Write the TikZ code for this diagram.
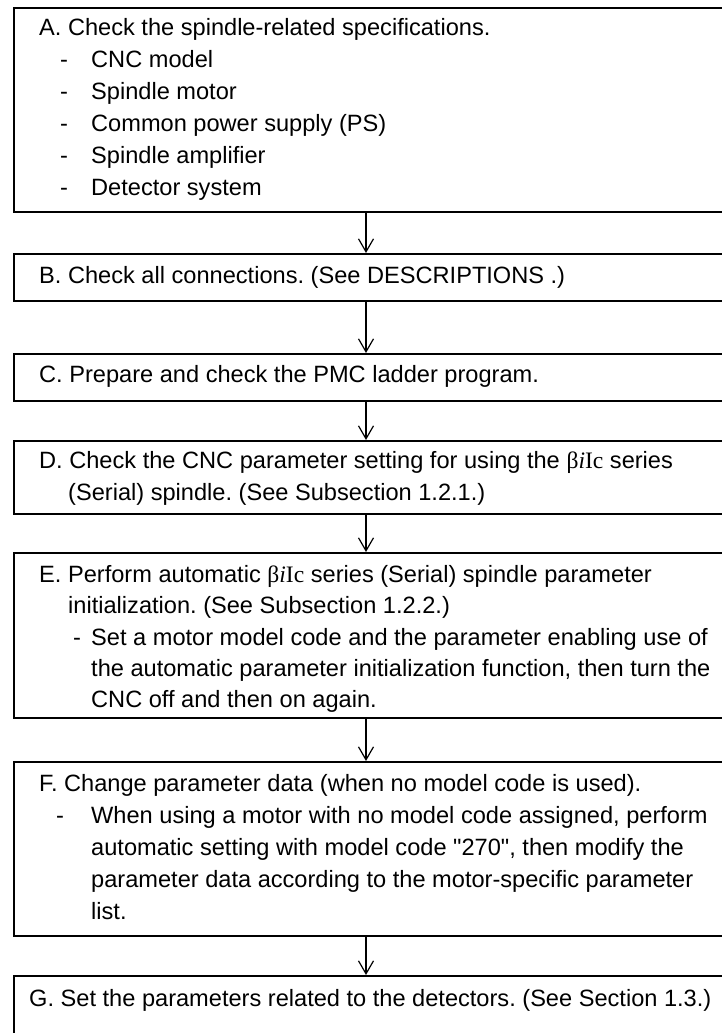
\documentclass[tikz,border=0pt]{standalone}
\usepackage{fontspec}
\setmainfont{Liberation Sans}
\newfontfamily\serifb{Liberation Serif}
\newfontfamily\plainsans{Liberation Sans}
\usetikzlibrary{arrows.meta}
\newcommand{\bic}{{\serifb β\textit{i}Ic}}
\newcommand{\sq}{{\plainsans "}}
\frenchspacing
\tikzset{
  box/.style={draw, line width=1.6pt, anchor=north west, minimum width=740pt, inner sep=0pt},
  txt/.style={anchor=base west, inner sep=0pt, font=\fontsize{23.6}{30}\selectfont},
  arr/.style={line width=1.2pt, -{Straight Barb[length=13pt,width=15pt,line width=1.2pt]}}
}
\begin{document}
\begin{tikzpicture}[x=1pt,y=-1pt]
\useasboundingbox (0,0) rectangle (722,1033);
\clip (0,0) rectangle (722,1033);
% boxes
\node[box, minimum height=204pt] (A) at (13,7) {};
\node[box, minimum height=47pt] (B) at (13,253) {};
\node[box, minimum height=47pt] (C) at (13,353) {};
\node[box, minimum height=73pt] (D) at (13,440) {};
\node[box, minimum height=165pt] (E) at (13,552) {};
\node[box, minimum height=174pt] (F) at (13,761) {};
\node[box, minimum height=120pt] (G) at (13,975) {};
\coordinate (ax) at (366,0);
% texts A
\node[txt] (a0) at (39,35.5) {A. Check the spindle-related specifications.};
\node[txt] (a1d) at (60,67.5) {-};
\node[txt] (a1) at (91,67.5) {CNC model};
\node[txt] (a2d) at (60,99.5) {-};
\node[txt] (a2) at (91,99.5) {Spindle motor};
\node[txt] (a3d) at (60,131.5) {-};
\node[txt] (a3) at (91,131.5) {Common power supply (PS)};
\node[txt] (a4d) at (60,163.5) {-};
\node[txt] (a4) at (91,163.5) {Spindle amplifier};
\node[txt] (a5d) at (60,195.5) {-};
\node[txt] (a5) at (91,195.5) {Detector system};
% B
\node[txt] (b0) at (39,283.5) {B. Check all connections. (See DESCRIPTIONS .)};
% C
\node[txt] (c0) at (39,382.5) {C. Prepare and check the PMC ladder program.};
% D
\node[txt] (d0) at (39,468.5) {D. Check the CNC parameter setting for using the \bic{} series};
\node[txt] (d1) at (68,500.5) {(Serial) spindle. (See Subsection 1.2.1.)};
% E
\node[txt] (e0) at (39,582) {E. Perform automatic \bic{} series (Serial) spindle parameter};
\node[txt] (e1) at (68,613) {initialization. (See Subsection 1.2.2.)};
\node[txt] (e2d) at (73,645) {-};
\node[txt] (e2) at (91,645) {Set a motor model code and the parameter enabling use of};
\node[txt] (e3) at (91,676) {the automatic parameter initialization function, then turn the};
\node[txt] (e4) at (91,707) {CNC off and then on again.};
% F
\node[txt] (f0) at (39,791) {F. Change parameter data (when no model code is used).};
\node[txt] (f1d) at (56,823) {-};
\node[txt] (f1) at (91,823) {When using a motor with no model code assigned, perform};
\node[txt] (f2) at (91,855) {automatic setting with model code \sq270\sq, then modify the};
\node[txt] (f3) at (91,887) {parameter data according to the motor-specific parameter};
\node[txt] (f4) at (91,919) {list.};
% G
\node[txt] (g0) at (29,1006.5) {G. Set the parameters related to the detectors. (See Section 1.3.)};
% arrows
\draw[arr] (A.south -| ax) -- (B.north -| ax);
\draw[arr] (B.south -| ax) -- (C.north -| ax);
\draw[arr] (C.south -| ax) -- (D.north -| ax);
\draw[arr] (D.south -| ax) -- (E.north -| ax);
\draw[arr] (E.south -| ax) -- (F.north -| ax);
\draw[arr] (F.south -| ax) -- (G.north -| ax);
\end{tikzpicture}
\end{document}
